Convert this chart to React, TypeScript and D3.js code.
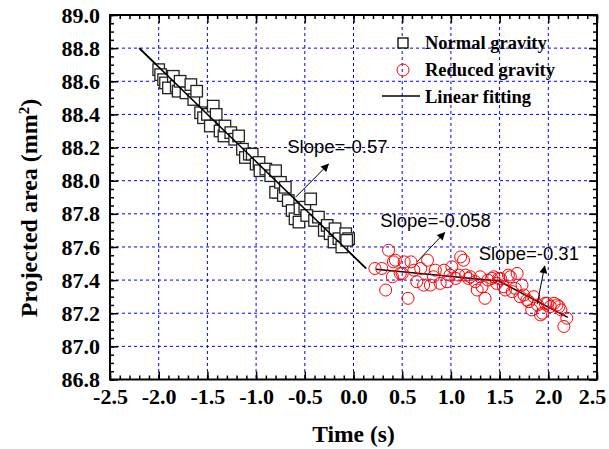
import React, { useEffect, useRef } from "react";
import * as d3 from "d3";

// normal gravity (squares)
const normalT = [-2.0, -1.98, -1.95, -1.93, -1.9, -1.85, -1.82, -1.8, -1.78, -1.72, -1.67, -1.64, -1.61, -1.57, -1.54, -1.5, -1.47, -1.44, -1.41, -1.37, -1.33, -1.32, -1.26, -1.22, -1.18, -1.14, -1.11, -1.07, -1.04, -1.0, -0.97, -0.96, -0.9, -0.85, -0.8, -0.77, -0.8, -0.75, -0.72, -0.7, -0.67, -0.63, -0.6, -0.56, -0.55, -0.5, -0.48, -0.44, -0.4, -0.36, -0.3, -0.27, -0.24, -0.2, -0.19, -0.15, -0.12, -0.08, -0.05, -0.07];
const normalA = [88.67, 88.64, 88.61, 88.59, 88.56, 88.63, 88.57, 88.54, 88.6, 88.53, 88.58, 88.49, 88.54, 88.41, 88.38, 88.4, 88.33, 88.45, 88.4, 88.3, 88.27, 88.33, 88.29, 88.25, 88.27, 88.19, 88.14, 88.16, 88.16, 88.1, 88.11, 88.06, 88.07, 88.03, 88.06, 87.93, 87.93, 87.99, 87.91, 87.96, 87.88, 87.82, 87.77, 87.75, 87.83, 87.84, 87.79, 87.89, 87.76, 87.78, 87.7, 87.73, 87.68, 87.63, 87.71, 87.65, 87.6, 87.68, 87.65, 87.64];

// reduced gravity (circles)
const reducedT = [0.22, 0.29, 0.33, 0.36, 0.4, 0.41, 0.43, 0.48, 0.5, 0.52, 0.56, 0.59, 0.62, 0.65, 0.69, 0.72, 0.76, 0.79, 0.82, 0.84, 0.89, 0.93, 0.96, 0.99, 1.01, 1.05, 1.08, 1.1, 1.13, 1.15, 1.18, 1.2, 1.25, 1.27, 1.3, 1.32, 1.35, 1.38, 1.42, 1.44, 1.47, 1.49, 1.51, 1.54, 1.56, 1.59, 1.61, 1.63, 1.66, 1.68, 1.71, 1.73, 1.75, 1.78, 1.8, 1.83, 1.85, 1.89, 1.92, 1.94, 1.97, 1.99, 2.02, 2.06, 2.09, 2.11, 2.13, 2.16, 2.19];
const reducedA = [87.47, 87.47, 87.34, 87.58, 87.42, 87.51, 87.52, 87.44, 87.44, 87.51, 87.29, 87.51, 87.46, 87.39, 87.47, 87.37, 87.52, 87.37, 87.42, 87.46, 87.38, 87.46, 87.39, 87.43, 87.48, 87.41, 87.43, 87.54, 87.52, 87.43, 87.41, 87.42, 87.39, 87.34, 87.42, 87.36, 87.29, 87.4, 87.41, 87.42, 87.38, 87.41, 87.41, 87.36, 87.34, 87.43, 87.42, 87.33, 87.35, 87.44, 87.3, 87.37, 87.31, 87.28, 87.27, 87.22, 87.3, 87.25, 87.19, 87.2, 87.26, 87.26, 87.24, 87.26, 87.25, 87.24, 87.22, 87.12, 87.17];

// linear fits: [t0, a0, t1, a1]
const fits = [
  [-2.2, 88.8, 0.13, 87.47],
  [0.23, 87.465, 1.49, 87.395],
  [1.49, 87.395, 2.2, 87.175],
];

// slope labels: text, text anchor point, arrow from, arrow to (data units)
const slopeLabels = ["Slope=-0.57", "Slope=-0.058", "Slope=-0.31"];
const slopeText = [[-0.68, 88.166], [0.275, 87.72], [1.285, 87.524]];
const slopeArrows = [
  [-0.595, 87.9, -0.257, 88.1],
  [0.653, 87.51, 0.936, 87.687],
  [1.885, 87.254, 1.963, 87.485],
];

const xTicks = [-2.5, -2.0, -1.5, -1.0, -0.5, 0.0, 0.5, 1.0, 1.5, 2.0, 2.5];
const yTicks = [86.8, 87.0, 87.2, 87.4, 87.6, 87.8, 88.0, 88.2, 88.4, 88.6, 88.8, 89.0];

const W = 609;
const H = 449;
const margin = { top: 15, right: 12, bottom: 69.5, left: 110 };
const innerW = W - margin.left - margin.right;
const innerH = H - margin.top - margin.bottom;
const serif = "'Liberation Serif', 'Times New Roman', serif";
const sans = "'Liberation Sans', Arial, sans-serif";

export default function App() {
  const ref = useRef<SVGSVGElement>(null);

  useEffect(() => {
    const svg = d3.select(ref.current);
    svg.selectAll("*").remove();

    const x = d3.scaleLinear().domain([-2.5, 2.5]).range([0, innerW]);
    const y = d3.scaleLinear().domain([86.8, 89.0]).range([innerH, 0]);
    const fmt = (d: any) => (+d).toFixed(1); // plain hyphen minus, like the original

    const defs = svg.append("defs");
    defs.append("marker").attr("id", "arrow").attr("viewBox", "0 0 10 10")
      .attr("refX", 9).attr("refY", 5).attr("markerWidth", 11).attr("markerHeight", 8)
      .attr("markerUnits", "userSpaceOnUse").attr("orient", "auto")
      .append("path").attr("d", "M0,0 L10,5 L0,10 Z").attr("fill", "black");

    const g = svg.append("g").attr("transform", `translate(${margin.left},${margin.top})`);

    // grid
    g.append("g").selectAll("line").data(xTicks.slice(1, -1)).join("line")
      .attr("x1", d => x(d)).attr("x2", d => x(d)).attr("y1", 0).attr("y2", innerH)
      .attr("stroke", "#0000ff").attr("stroke-dasharray", "3,3").attr("stroke-width", 1);
    g.append("g").selectAll("line").data(yTicks.slice(1, -1)).join("line")
      .attr("y1", d => y(d)).attr("y2", d => y(d)).attr("x1", 0).attr("x2", innerW)
      .attr("stroke", "#0000ff").attr("stroke-dasharray", "3,3").attr("stroke-width", 1);

    // minor ticks
    const xMinor = d3.range(-2.5, 2.5001, 0.1).map(d => +d.toFixed(2));
    const yMinor = d3.range(86.8, 89.0001, 0.05).map(d => +d.toFixed(2));

    const styleAxis = (sel: any) => {
      sel.select(".domain").remove();
      sel.selectAll(".tick line").attr("stroke", "black").attr("stroke-width", 1.5);
      sel.selectAll("text").attr("font-family", serif).attr("font-weight", "bold")
        .attr("font-size", 22).attr("fill", "black");
    };

    g.append("g").attr("transform", `translate(0,${innerH})`)
      .call(d3.axisBottom(x).tickValues(xMinor).tickSize(-4).tickFormat(() => "")).call(styleAxis);
    g.append("g")
      .call(d3.axisTop(x).tickValues(xMinor).tickSize(-4).tickFormat(() => "")).call(styleAxis);
    g.append("g")
      .call(d3.axisLeft(y).tickValues(yMinor).tickSize(-4).tickFormat(() => "")).call(styleAxis);
    g.append("g").attr("transform", `translate(${innerW},0)`)
      .call(d3.axisRight(y).tickValues(yMinor).tickSize(-4).tickFormat(() => "")).call(styleAxis);

    // major ticks with labels
    const xAxisG = g.append("g").attr("transform", `translate(0,${innerH})`)
      .call(d3.axisBottom(x).tickValues(xTicks).tickSize(-8).tickPadding(9).tickFormat(fmt))
      .call(styleAxis);
    // keep the last label inside the picture
    xAxisG.selectAll(".tick text").filter((d: any) => d === 2.5).attr("dx", -5);
    g.append("g")
      .call(d3.axisLeft(y).tickValues(yTicks).tickSize(-8).tickPadding(10).tickFormat(fmt))
      .call(styleAxis);
    g.append("g")
      .call(d3.axisTop(x).tickValues(xTicks).tickSize(-8).tickFormat(() => "")).call(styleAxis);
    g.append("g").attr("transform", `translate(${innerW},0)`)
      .call(d3.axisRight(y).tickValues(yTicks).tickSize(-8).tickFormat(() => "")).call(styleAxis);

    // fit lines
    g.append("g").selectAll("line").data(fits).join("line")
      .attr("x1", d => x(d[0])).attr("y1", d => y(d[1]))
      .attr("x2", d => x(d[2])).attr("y2", d => y(d[3]))
      .attr("stroke", "black").attr("stroke-width", 1.5);

    // squares
    const sq = 11.5;
    g.append("g").selectAll("rect").data(normalT.map((t, i) => [t, normalA[i]])).join("rect")
      .attr("x", d => x(d[0]) - sq / 2).attr("y", d => y(d[1]) - sq / 2)
      .attr("width", sq).attr("height", sq)
      .attr("fill", "white").attr("stroke", "#222").attr("stroke-width", 1.3);

    // redraw fit line 1 above squares
    g.append("line")
      .attr("x1", x(fits[0][0])).attr("y1", y(fits[0][1]))
      .attr("x2", x(fits[0][2])).attr("y2", y(fits[0][3]))
      .attr("stroke", "black").attr("stroke-width", 1.5);

    // circles
    g.append("g").selectAll("circle").data(reducedT.map((t, i) => [t, reducedA[i]])).join("circle")
      .attr("cx", d => x(d[0])).attr("cy", d => y(d[1])).attr("r", 6)
      .attr("fill", "none").attr("stroke", "#ff0000").attr("stroke-width", 1);

    // arrows
    g.append("g").selectAll("line").data(slopeArrows).join("line")
      .attr("x1", d => x(d[0])).attr("y1", d => y(d[1]))
      .attr("x2", d => x(d[2])).attr("y2", d => y(d[3]))
      .attr("stroke", "black").attr("stroke-width", 1).attr("marker-end", "url(#arrow)");

    g.append("g").selectAll("text").data(slopeLabels).join("text")
      .attr("x", (d, i) => x(slopeText[i][0])).attr("y", (d, i) => y(slopeText[i][1]))
      .attr("font-family", sans).attr("font-size", 18.5).attr("fill", "black")
      .text(d => d);

    // frame
    g.append("rect").attr("width", innerW).attr("height", innerH)
      .attr("fill", "none").attr("stroke", "black").attr("stroke-width", 2);

    // legend
    const leg = svg.append("g");
    leg.append("rect").attr("x", 398).attr("y", 38).attr("width", 10).attr("height", 10)
      .attr("fill", "white").attr("stroke", "black").attr("stroke-width", 1.3);
    leg.append("circle").attr("cx", 403).attr("cy", 70).attr("r", 6)
      .attr("fill", "none").attr("stroke", "#ff0000").attr("stroke-width", 1);
    leg.append("line").attr("x1", 382).attr("x2", 420).attr("y1", 96).attr("y2", 96)
      .attr("stroke", "black").attr("stroke-width", 1.5);
    const legText = ["Normal gravity", "Reduced gravity", "Linear fitting"];
    leg.selectAll("text").data(legText).join("text")
      .attr("x", 425).attr("y", (d, i) => 49 + i * 27)
      .attr("font-family", serif).attr("font-weight", "bold").attr("font-size", 18.5)
      .text(d => d);

    // axis titles
    svg.append("text").attr("x", margin.left + innerW / 2).attr("y", 442)
      .attr("text-anchor", "middle").attr("font-family", serif).attr("font-weight", "bold")
      .attr("font-size", 23.5).text("Time (s)");
    const yt = svg.append("text")
      .attr("transform", `translate(37,208) rotate(-90)`)
      .attr("text-anchor", "middle").attr("font-family", serif).attr("font-weight", "bold")
      .attr("font-size", 24);
    yt.append("tspan").text("Projected area (mm");
    yt.append("tspan").attr("baseline-shift", "super").attr("font-size", 15).text("2");
    yt.append("tspan").text(")");
  }, []);

  return (
    <svg ref={ref} width={W} height={H}
      style={{ position: "absolute", left: 0, top: 0, background: "white" }} />
  );
}
